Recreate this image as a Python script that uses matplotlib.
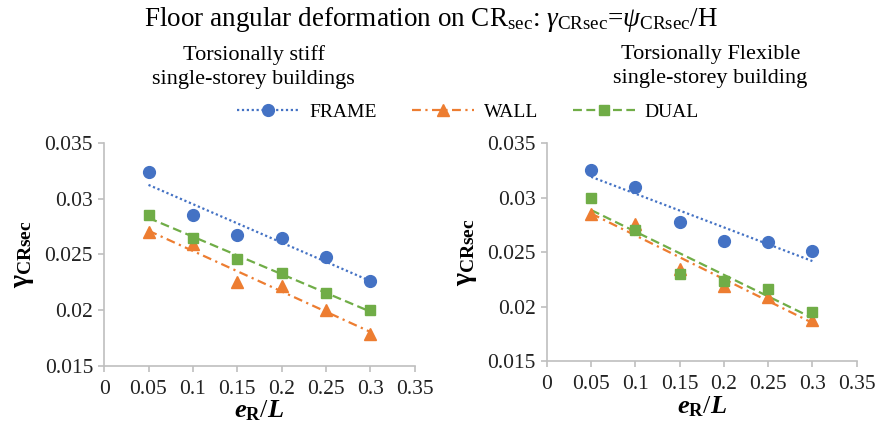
import numpy as np
import matplotlib.pyplot as plt
from matplotlib.lines import Line2D

plt.rcParams['font.family'] = ['Liberation Serif', 'DejaVu Serif']
plt.rcParams['mathtext.fontset'] = 'custom'
plt.rcParams['mathtext.rm'] = 'Liberation Serif'
plt.rcParams['mathtext.it'] = 'Liberation Serif:italic'
plt.rcParams['mathtext.bf'] = 'Liberation Serif:bold'
plt.rcParams['mathtext.bfit'] = 'Liberation Serif:italic:bold'

# eccentricity ratio e_R/L
eR = [0.05, 0.1, 0.15, 0.2, 0.25, 0.3]

# torsionally stiff buildings
stiff_frame = [0.0324, 0.0285, 0.0267, 0.0265, 0.0248, 0.0226]
stiff_wall = [0.0270, 0.0259, 0.0225, 0.0222, 0.0200, 0.0179]
stiff_dual = [0.0285, 0.0265, 0.0246, 0.0233, 0.0215, 0.0200]

# torsionally flexible building
flex_frame = [0.0325, 0.0310, 0.0278, 0.0260, 0.0259, 0.0251]
flex_wall = [0.0285, 0.0276, 0.0235, 0.0219, 0.0209, 0.0188]
flex_dual = [0.0300, 0.0270, 0.0230, 0.0224, 0.0216, 0.0195]

names = ['FRAME', 'WALL', 'DUAL']
colors = ['#4472C4', '#ED7D31', '#70AD47']
markers = ['o', '^', 's']
styles = [(0, (1, 1.2)), (0, (4, 2, 1, 2)), (0, (4, 2))]
msizes = [8.5, 8.5, 7]

fig = plt.figure(figsize=(8.75, 4.3), dpi=100)
ax1 = fig.add_axes([0.119, 0.149, 0.355, 0.519])
ax2 = fig.add_axes([0.625, 0.16, 0.354, 0.507])


def draw(ax, series):
    x = np.array(eR)
    for y, c, m, ls, ms in zip(series, colors, markers, styles, msizes):
        ax.plot(x, y, linestyle='none', marker=m, color=c, markersize=ms, zorder=3)
        # linear trend through each series
        k, b = np.polyfit(x, y, 1)
        xt = np.array([x[0], x[-1]])
        ax.plot(xt, k * xt + b, linestyle=ls, color=c, linewidth=1.6, zorder=2)
    ax.set_xlim(0, 0.35)
    ax.set_ylim(0.015, 0.035)
    ax.set_xticks([0, 0.05, 0.1, 0.15, 0.2, 0.25, 0.3, 0.35])
    ax.set_xticklabels(['0', '0.05', '0.1', '0.15', '0.2', '0.25', '0.3', '0.35'])
    ax.set_yticks([0.015, 0.02, 0.025, 0.03, 0.035])
    ax.set_yticklabels(['0.015', '0.02', '0.025', '0.03', '0.035'])
    for s in ['top', 'right']:
        ax.spines[s].set_visible(False)
    for s in ['left', 'bottom']:
        ax.spines[s].set_color('#BFBFBF')
        ax.spines[s].set_linewidth(1.2)
    ax.tick_params(colors='#BFBFBF', labelcolor='#222222', labelsize=15.5,
                   length=4, width=1.2, direction='out', pad=4)
    ax.tick_params(axis='x', pad=6)
    ax.set_xlabel(r'$\mathbfit{e}_{\mathbf{R}}/\mathbfit{L}$', fontsize=19, labelpad=0)
    ax.set_ylabel(r'$\mathbf{\gamma}_{\mathbf{CRsec}}$', fontsize=20, labelpad=6)


draw(ax1, [stiff_frame, stiff_wall, stiff_dual])
draw(ax2, [flex_frame, flex_wall, flex_dual])

fig.text(0.493, 0.955,
         r'Floor angular deformation on CR$_{\mathrm{sec}}$: $\mathit{\gamma}_{\mathrm{CRsec}}$=$\mathit{\psi}_{\mathrm{CRsec}}$/H',
         ha='center', va='center', fontsize=19.5)
fig.text(0.29, 0.845, 'Torsionally stiff\nsingle-storey buildings',
         ha='center', va='center', fontsize=16, linespacing=1.35)
fig.text(0.812, 0.845, 'Torsionally Flexible\nsingle-storey building',
         ha='center', va='center', fontsize=16, linespacing=1.35)

handles = [Line2D([], [], color=c, marker=m, linestyle=ls, linewidth=1.6, markersize=ms)
           for c, m, ls, ms in zip(colors, markers, styles, msizes)]
fig.legend(handles, names, loc='center', bbox_to_anchor=(0.535, 0.74), ncol=3,
           frameon=False, fontsize=14, handlelength=3.2, columnspacing=1.8,
           handletextpad=0.5)

fig.savefig('out.png', dpi=100)
